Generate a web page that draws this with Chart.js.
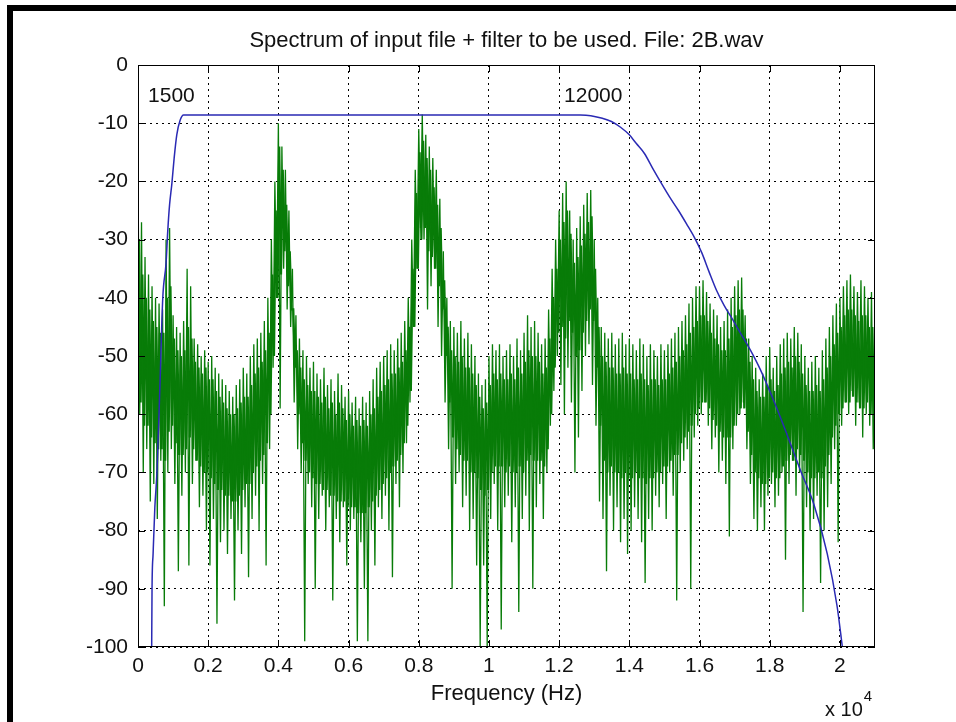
<!DOCTYPE html>
<html><head><meta charset="utf-8">
<script src="https://cdn.jsdelivr.net/npm/chart.js@4/dist/chart.umd.min.js"></script>
<style>
html,body{margin:0;padding:0;background:#fff;width:956px;height:722px;overflow:hidden;}
#wrap{position:relative;width:956px;height:722px;}
canvas{position:absolute;left:0;top:0;}
.bar{position:absolute;background:#000;}
</style></head><body>
<div id="wrap">
<canvas id="c" width="956" height="722"></canvas>
<div class="bar" style="left:7px;top:5px;width:949px;height:6px"></div>
<div class="bar" style="left:7px;top:5px;width:6px;height:717px"></div>
</div>
<script>
// ---- data ----
const titleText = 'Spectrum of input file + filter to be used. File: 2B.wav';
const xAxisLabel = 'Frequency (Hz)';
const xTickValues = [0,2000,4000,6000,8000,10000,12000,14000,16000,18000,20000];
const xTickLabels = ['0','0.2','0.4','0.6','0.8','1','1.2','1.4','1.6','1.8','2'];
const yTickValues = [0,-10,-20,-30,-40,-50,-60,-70,-80,-90,-100];
const yTickLabels = ['0','-10','-20','-30','-40','-50','-60','-70','-80','-90','-100'];
const cutoffLabels = ['1500','12000'];
const cutoffLabelHz = [286, 12140];
const cutoffLabelDb = -6.4;

// filter response (blue)
const filterFreqHz = [390,400,430,480,540,620,706,800,848,900,963,1030,1105,1200,1300,1500,12000,12600,12900,13200,13490,13750,14000,14200,14430,14670,14910,15150,15400,15630,15860,16060,16270,16490,16700,16970,17200,17450,17730,18110,18500,18880,19260,19640,19920,20070];
const filterDb = [-100,-90,-84,-76,-70,-56,-40,-34,-28.5,-24,-20.5,-16,-12,-9.5,-8.6,-8.6,-8.6,-8.6,-8.7,-9.1,-9.7,-10.7,-12,-13.5,-15.2,-17.8,-20.3,-22.7,-25,-27.3,-29.7,-32.2,-35.5,-38.8,-41.3,-44,-46.4,-49,-52.3,-57.6,-63.6,-69.7,-75.5,-84,-93,-100];

// input spectrum (green), per 100 Hz bin
const specStepHz = 100;
// outer strands: highest and lowest excursion in each bin
const specHighDb = [
-19,-27,-33,-36,-38,-40,-41,-42,-30,-28,
-43,-45,-46,-44,-35,-38,-47,-48,-50,-49,
-51,-50,-52,-53,-54,-55,-56,-57,-55,-54,
-52,-53,-50,-48,-47,-46,-44,-40,-30,-20,
-10,-14,-18,-25,-35,-43,-47,-49,-50,-52,
-51,-53,-54,-52,-55,-54,-56,-53,-55,-57,
-56,-58,-57,-59,-57,-58,-56,-54,-52,-51,
-50,-49,-48,-49,-47,-46,-44,-40,-30,-18,
-11,-8.5,-12,-14,-16,-18,-23,-32,-40,-44,
-45,-46,-44,-47,-46,-48,-50,-53,-55,-54,
-50,-48,-49,-48,-50,-49,-48,-50,-47,-49,
-46,-43,-45,-44,-46,-48,-47,-42,-35,-30,
-25,-22,-20,-25,-30,-28,-26,-24,-22,-21.5,
-30,-40,-45,-46,-47,-46,-48,-47,-46,-48,
-47,-48,-49,-47,-48,-50,-48,-49,-50,-48,
-49,-48,-47,-46,-45,-44,-43,-41,-40,-38,
-38,-37,-39,-41,-42,-43,-45,-44,-42,-40,
-38,-37,-36.5,-43,-47,-50,-52,-54,-53,-50,
-48.5,-52,-50,-48,-47,-46,-47,-45,-46,-48,
-50,-52,-51,-50,-52,-49,-47,-45,-43,-41,
-40,-38,-37,-36,-38,-39,-37,-38,-40,-39,
-41];
const specLowDb = [
-60,-70,-66,-75,-72,-78,-68,-93,-70,-66,
-72,-87,-74,-70,-86,-72,-68,-76,-74,-80,
-86,-78,-96,-82,-80,-84,-78,-92,-80,-84,
-76,-88,-78,-74,-80,-72,-86,-66,-52,-40,
-59,-35,-42,-45,-58,-66,-70,-99,-72,-76,
-90,-78,-74,-80,-76,-92,-78,-82,-76,-86,
-80,-78,-99,-82,-90,-99,-80,-86,-76,-78,
-74,-80,-88,-72,-76,-70,-65,-58,-45,-35,
-28,-30,-42,-38,-35,-45,-50,-58,-66,-90,
-72,-70,-76,-74,-80,-78,-86,-100,-86,-100,
-78,-72,-80,-97,-76,-74,-82,-76,-94,-78,
-74,-80,-90,-76,-72,-78,-70,-62,-56,-50,
-55,-60,-52,-58,-70,-64,-56,-50,-48,-55,
-62,-75,-78,-87,-74,-80,-76,-82,-78,-84,
-80,-76,-78,-82,-89,-78,-80,-74,-76,-72,
-78,-70,-74,-92,-70,-68,-66,-90,-64,-62,
-60,-58,-62,-66,-64,-70,-68,-72,-81,-66,
-62,-60,-58,-66,-72,-78,-80,-76,-80,-74,
-72,-76,-74,-70,-85,-72,-68,-74,-70,-94,
-76,-80,-78,-74,-89,-80,-76,-72,-66,-82,
-62,-58,-60,-56,-62,-58,-64,-60,-62,-66,
-64];
// dense core of the trace: top and bottom of the solid band in each bin
const coreTopDb = [
-30,-36,-40,-42,-44,-45,-46,-46,-40,-38,
-47,-49,-50,-49,-45,-47,-51,-52,-53,-52,
-54,-54,-56,-57,-58,-59,-60,-60,-59,-58,
-57,-57,-55,-53,-52,-51,-49,-46,-36,-25,
-14,-18,-24,-32,-42,-49,-52,-54,-55,-56,
-56,-57,-58,-57,-59,-58,-60,-58,-59,-61,
-60,-62,-61,-62,-61,-62,-60,-59,-57,-56,
-55,-54,-53,-53,-52,-51,-49,-45,-35,-22,
-15,-13,-16,-18,-21,-24,-28,-37,-45,-49,
-50,-51,-50,-52,-52,-53,-55,-57,-59,-58,
-55,-53,-54,-53,-54,-54,-53,-54,-52,-53,
-51,-49,-50,-50,-51,-53,-52,-47,-40,-35,
-30,-27,-25,-29,-34,-33,-31,-29,-27,-26,
-35,-45,-50,-51,-52,-52,-53,-53,-52,-53,
-53,-54,-54,-53,-54,-55,-54,-54,-55,-54,
-54,-53,-52,-51,-50,-49,-48,-46,-45,-44,
-43,-43,-44,-46,-47,-48,-49,-49,-47,-45,
-43,-42,-42,-47,-51,-54,-56,-57,-57,-55,
-54,-56,-55,-53,-52,-51,-52,-50,-51,-53,
-55,-56,-56,-55,-56,-54,-52,-50,-48,-46,
-45,-43,-42,-42,-43,-44,-43,-43,-45,-45,
-46];
const coreBottomDb = [
-58,-62,-62,-64,-65,-66,-66,-68,-63,-62,
-65,-67,-67,-66,-64,-66,-68,-69,-70,-70,
-71,-72,-73,-73,-74,-74,-75,-75,-74,-73,
-72,-72,-70,-69,-68,-67,-65,-60,-50,-40,
-36,-32,-38,-42,-52,-60,-65,-68,-70,-71,
-72,-72,-73,-73,-74,-74,-75,-75,-75,-76,
-76,-76,-77,-77,-77,-76,-75,-74,-73,-72,
-71,-70,-69,-68,-67,-65,-62,-56,-45,-35,
-30,-28,-32,-33,-35,-38,-42,-50,-58,-64,
-66,-67,-68,-68,-70,-70,-71,-73,-74,-73,
-70,-69,-69,-69,-70,-69,-70,-70,-69,-70,
-68,-67,-68,-68,-68,-69,-66,-60,-52,-46,
-45,-47,-44,-46,-50,-49,-46,-44,-42,-44,
-52,-62,-68,-70,-69,-70,-70,-71,-70,-71,
-71,-70,-71,-71,-72,-71,-71,-70,-70,-69,
-69,-68,-67,-67,-65,-64,-63,-62,-60,-59,
-58,-58,-59,-61,-62,-63,-64,-64,-64,-62,
-60,-59,-59,-63,-67,-70,-71,-72,-72,-71,
-70,-71,-71,-69,-68,-67,-68,-66,-67,-68,
-70,-71,-71,-70,-71,-69,-67,-64,-62,-60,
-59,-58,-58,-57,-58,-59,-59,-58,-60,-61,
-61];

// ---- build datasets ----
const filterPts = filterFreqHz.map((f, i) => ({x: f, y: filterDb[i]}));
const specPts = [];
specHighDb.forEach((hi, i) => {
  const f = i * specStepHz;
  specPts.push({x: f, y: hi});
  specPts.push({x: f + specStepHz / 2, y: specLowDb[i]});
});
const corePts = [];
coreTopDb.forEach((top, i) => {
  const f = i * specStepHz;
  corePts.push({x: f + specStepHz / 4, y: top});
  corePts.push({x: f + 3 * specStepHz / 4, y: coreBottomDb[i]});
});

const GREEN = 'rgb(8,124,8)';
const FONT = '"Liberation Sans", Arial, Helvetica, sans-serif';
const PLOT = {left: 138, right: 875, top: 65, bottom: 647, W: 956, H: 722};

const decor = {
  id: 'decor',
  afterDraw(chart) {
    const {ctx, chartArea: a, scales: {x, y}} = chart;
    ctx.save();
    ctx.strokeStyle = '#000';
    ctx.lineWidth = 1;
    ctx.strokeRect(a.left + 0.5, a.top + 0.5, a.right - a.left - 1, a.bottom - a.top - 1);
    ctx.beginPath();
    const tl = 7;
    xTickValues.forEach(v => {
      const px = Math.round(x.getPixelForValue(v)) + 0.5;
      ctx.moveTo(px, a.bottom); ctx.lineTo(px, a.bottom - tl);
      ctx.moveTo(px, a.top); ctx.lineTo(px, a.top + tl);
    });
    yTickValues.forEach(v => {
      const py = Math.round(y.getPixelForValue(v)) + 0.5;
      ctx.moveTo(a.left, py); ctx.lineTo(a.left + tl, py);
      ctx.moveTo(a.right, py); ctx.lineTo(a.right - tl, py);
    });
    ctx.stroke();

    ctx.fillStyle = '#111';
    ctx.textBaseline = 'alphabetic';
    ctx.font = '22px ' + FONT;
    ctx.textAlign = 'center';
    ctx.fillText(titleText, (a.left + a.right) / 2, 47);
    ctx.fillText(xAxisLabel, (a.left + a.right) / 2, 700);
    ctx.textAlign = 'left';
    ctx.font = '20px ' + FONT;
    ctx.fillText('x 10', 825, 716);
    const w = ctx.measureText('x 10').width;
    ctx.font = '15px ' + FONT;
    ctx.fillText('4', 825 + w + 1, 701);
    ctx.font = '21px ' + FONT;
    cutoffLabels.forEach((t, i) => {
      ctx.fillText(t, x.getPixelForValue(cutoffLabelHz[i]), y.getPixelForValue(cutoffLabelDb));
    });
    ctx.restore();
  }
};

new Chart(document.getElementById('c'), {
  type: 'line',
  data: {
    datasets: [
      {label: 'filter', data: filterPts, borderColor: '#2a2ab4', borderWidth: 1.5, pointRadius: 0, cubicInterpolationMode: 'monotone', fill: false},
      {label: 'spectrum', data: specPts, borderColor: GREEN, borderWidth: 1.3, pointRadius: 0, tension: 0, fill: false},
      {label: 'spectrum core', data: corePts, borderColor: GREEN, borderWidth: 2.2, pointRadius: 0, tension: 0, fill: false}
    ]
  },
  options: {
    responsive: false,
    animation: false,
    devicePixelRatio: 1,
    events: [],
    layout: {padding: {left: 0, top: PLOT.top, right: PLOT.W - PLOT.right, bottom: 0}},
    plugins: {legend: {display: false}, tooltip: {enabled: false}, title: {display: false}},
    scales: {
      x: {
        type: 'linear', min: 0, max: 21000,
        afterBuildTicks: s => { s.ticks = xTickValues.map(v => ({value: v})); },
        afterFit: s => { s.height = PLOT.H - PLOT.bottom; },
        ticks: {
          callback: v => xTickLabels[xTickValues.indexOf(v)],
          font: {family: FONT, size: 21}, color: '#111', padding: 7, maxRotation: 0, autoSkip: false
        },
        grid: {color: '#000', lineWidth: 1, drawTicks: false},
        border: {display: false, dash: [2, 4]}
      },
      y: {
        type: 'linear', min: -100, max: 0,
        afterBuildTicks: s => { s.ticks = yTickValues.map(v => ({value: v})); },
        afterFit: s => { s.width = PLOT.left; },
        ticks: {
          callback: v => yTickLabels[yTickValues.indexOf(v)],
          font: {family: FONT, size: 21}, color: '#111', padding: 10, autoSkip: false
        },
        grid: {color: '#000', lineWidth: 1, drawTicks: false},
        border: {display: false, dash: [2, 4]}
      }
    }
  },
  plugins: [decor]
});
</script></body></html>
